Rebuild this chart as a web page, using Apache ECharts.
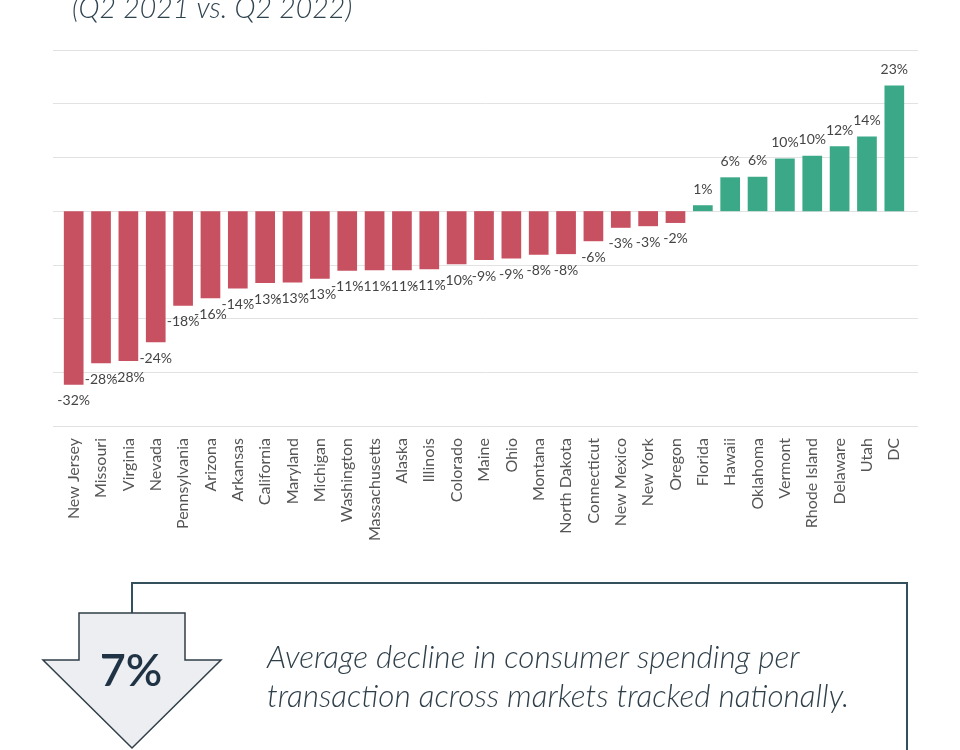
<!DOCTYPE html>
<html>
<head>
<meta charset="utf-8">
<script src="https://cdn.jsdelivr.net/npm/echarts@6/dist/echarts.min.js"></script>
<style>html,body{margin:0;padding:0;background:#fff;}#main{width:960px;height:750px;}</style>
</head>
<body>
<div id="main"></div>
<script>
const states = ['New Jersey','Missouri','Virginia','Nevada','Pennsylvania','Arizona','Arkansas','California','Maryland','Michigan','Washington','Massachusetts','Alaska','Illinois','Colorado','Maine','Ohio','Montana','North Dakota','Connecticut','New Mexico','New York','Oregon','Florida','Hawaii','Oklahoma','Vermont','Rhode Island','Delaware','Utah','DC'];
const changePct = [-32.3,-28.3,-27.9,-24.4,-17.6,-16.2,-14.4,-13.4,-13.3,-12.6,-11.1,-11.0,-11.0,-10.8,-9.9,-9.1,-8.8,-8.1,-8.0,-5.6,-3.1,-2.8,-2.2,1.1,6.3,6.4,9.8,10.3,12.1,13.9,23.4];
const yTicks = [-40,-30,-20,-10,0,10,20,30];

const RED = '#C85161', GREEN = '#3BA987';
const chart = echarts.init(document.getElementById('main'));
const barData = changePct.map(v => ({
  value: v,
  itemStyle: {color: v < 0 ? RED : GREEN},
  label: {position: v < 0 ? 'bottom' : 'top'}
}));
chart.setOption({
  animation: false,
  grid: [
    {left: 53, right: 42, top: 50, bottom: 324},
    {left: 60, right: 52, top: 50, bottom: 324}
  ],
  xAxis: [
    {gridIndex: 0, type: 'category', data: states, show: false},
    {gridIndex: 1, type: 'category', data: states,
     axisLine: {show: false}, axisTick: {show: false},
     axisLabel: {rotate: 90, interval: 0, margin: 12, fontFamily: 'Lato', fontSize: 16, color: '#555'}}
  ],
  yAxis: [
    {gridIndex: 0, type: 'value', min: yTicks[0], max: yTicks[yTicks.length-1], interval: 10,
     axisLabel: {show: false}, axisLine: {show: false}, axisTick: {show: false},
     splitLine: {lineStyle: {color: '#E2E2E2', width: 1}}},
    {gridIndex: 1, type: 'value', min: yTicks[0], max: yTicks[yTicks.length-1], interval: 10,
     show: false, splitLine: {show: false}}
  ],
  series: [{
    type: 'bar', xAxisIndex: 1, yAxisIndex: 1, data: barData, barWidth: '72%',
    label: {show: true, distance: 9, fontFamily: 'Lato', fontSize: 14, color: '#444',
      formatter: p => Math.round(p.value) + '%'}
  }],
  graphic: [
    {type: 'text', left: 72, top: -6, style: {text: '(Q2 2021 vs. Q2 2022)', font: 'italic 300 28.5px Lato', fill: '#2E4350'}},
    {type: 'polyline', shape: {points: [[132,613],[132,583],[907,583],[907,760]]},
     style: {stroke: '#34505C', lineWidth: 2, fill: null}},
    {type: 'polygon', shape: {points: [[79,613],[185,613],[185,660],[221,660],[132,748],[43,660],[79,660]]},
     style: {fill: '#EDEEF2', stroke: '#2F3E48', lineWidth: 1.5}},
    {type: 'text', x: 131, y: 671, style: {text: '7%', font: '600 45px Lato', fill: '#1F3345', align: 'center', verticalAlign: 'middle'}},
    {type: 'text', x: 267, y: 658, style: {text: 'Average decline in consumer spending per', font: 'italic 300 31.5px Lato', fill: '#2E3F4A', verticalAlign: 'middle'}},
    {type: 'text', x: 267, y: 697, style: {text: 'transaction across markets tracked nationally.', font: 'italic 300 31.5px Lato', fill: '#2E3F4A', verticalAlign: 'middle'}}
  ]
});
</script>
</body>
</html>
